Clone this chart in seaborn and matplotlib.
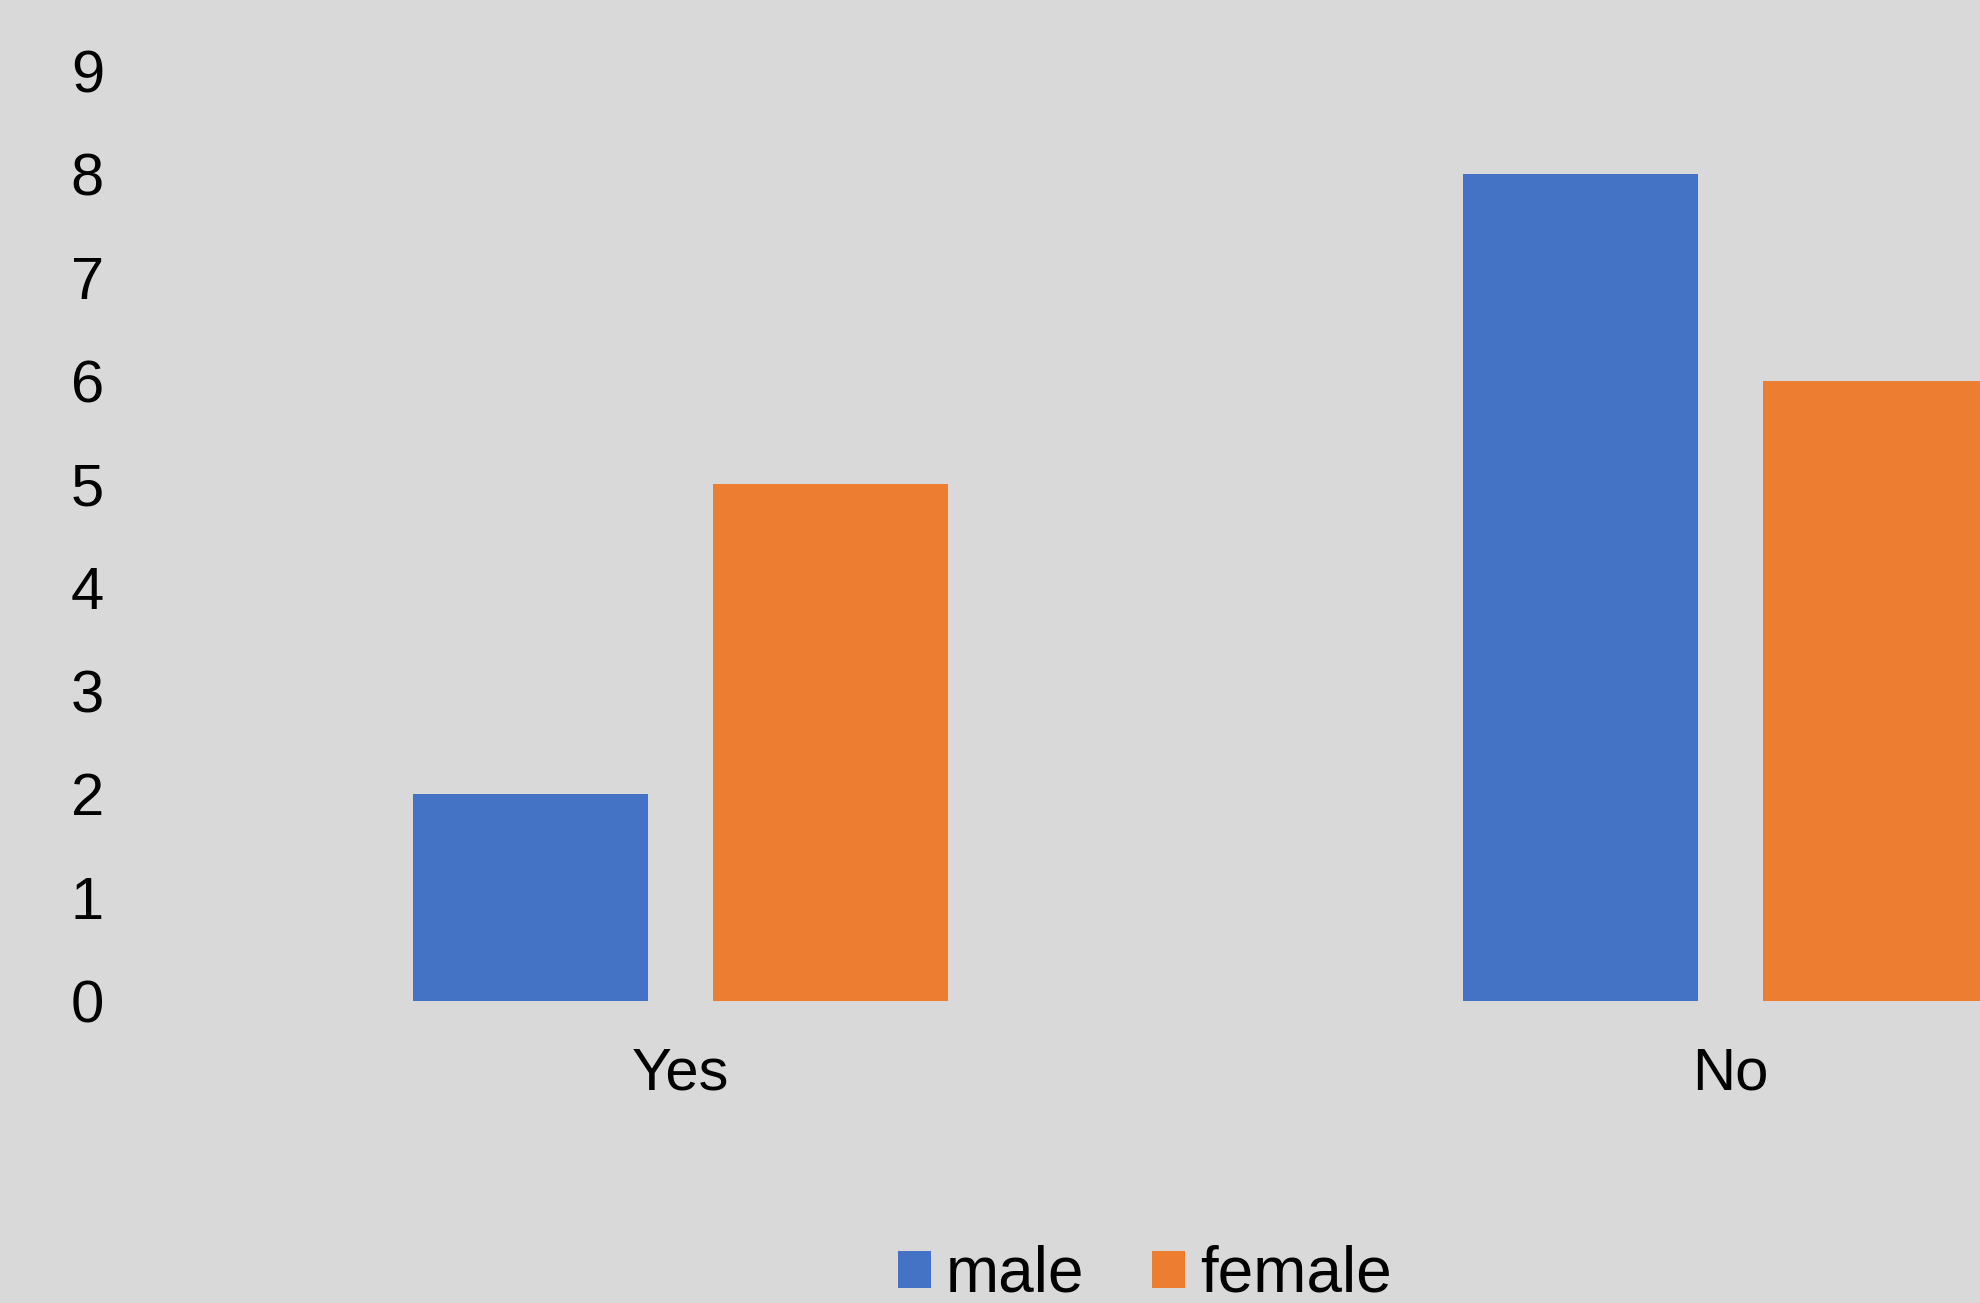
import matplotlib
matplotlib.use("Agg")
import matplotlib.pyplot as plt
import seaborn as sns
import pandas as pd

categories = ["Yes", "No"]
male = [2, 8]
female = [5, 6]
series_names = ["male", "female"]
y_ticks = [0, 1, 2, 3, 4, 5, 6, 7, 8, 9]

BG = "#D9D9D9"
colors = ["#4472C4", "#ED7D31"]

sns.set_theme(style="white")
plt.rcParams["font.family"] = ["Liberation Sans", "DejaVu Sans"]
plt.rcParams["text.color"] = "black"

df = pd.DataFrame({
    "answer": categories * 2,
    "count": male + female,
    "sex": [series_names[0]] * len(categories) + [series_names[1]] * len(categories),
})

W, H, DPI = 1981, 1303, 100
fig = plt.figure(figsize=(W / DPI, H / DPI), dpi=DPI, facecolor=BG)
ax_left = 155.5 / W
ax_bottom = (H - 1000.6) / H
ax_top = (H - 70.7) / H
ax = fig.add_axes([ax_left, ax_bottom, 1 - ax_left, ax_top - ax_bottom])
ax.set_facecolor(BG)

sns.barplot(data=df, x="answer", y="count", hue="sex", order=categories,
            hue_order=series_names, palette=colors, width=0.571, gap=0.217,
            linewidth=0, saturation=1, ax=ax)

handles = ax.get_legend().legend_handles
ax.get_legend().remove()

ax.set_ylim(0, 9)
ax.set_xlim(-0.5, -0.5 + (W - 155.5) / 1050)
ax.set_yticks(y_ticks)
ax.set_yticklabels([str(v) for v in y_ticks])
for s in ax.spines.values():
    s.set_visible(False)
ax.tick_params(axis="y", length=0, pad=37, labelsize=43, labelcolor="black")
ax.tick_params(axis="x", length=0, pad=33, labelsize=43, labelcolor="black")
ax.set_xlabel("")
ax.set_ylabel("")
ax.grid(False)

leg = fig.legend(handles, series_names, loc="center left",
                 bbox_to_anchor=(898 / W, 1 - 1275 / H), ncol=2, frameon=False,
                 fontsize=46, handlelength=0.52, handleheight=0.52,
                 handletextpad=0.23, columnspacing=1.06, borderpad=0,
                 borderaxespad=0, labelcolor="black")

fig.savefig("out.png", dpi=DPI, facecolor=BG)
